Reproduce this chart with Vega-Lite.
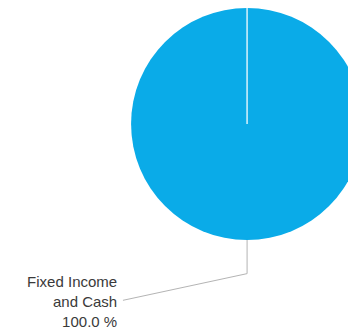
{
  "$schema": "https://vega.github.io/schema/vega-lite/v6.json",
  "width": 348,
  "height": 335,
  "autosize": {"type": "none"},
  "padding": 0,
  "background": "white",
  "config": {"view": {"stroke": null}},
  "datasets": {
    "slices": [{"category": "Fixed Income and Cash", "value": 100.0, "cx": 0, "cy": 0}],
    "divider": [{"x": 0, "y": 0, "x2": 0, "y2": 1}],
    "leader": [
      {"step": 1, "x": 0, "y": -1.0},
      {"step": 2, "x": 0, "y": -1.29},
      {"step": 3, "x": -1.07, "y": -1.52}
    ],
    "labels": [{"x": -1.12, "y": -1.405, "label": "Fixed Income\nand Cash\n100.0 %"}]
  },
  "layer": [
    {
      "data": {"name": "slices"},
      "mark": {"type": "arc", "radius": 116, "color": "#0AABE8"},
      "encoding": {
        "theta": {"field": "value", "type": "quantitative", "stack": true},
        "x": {"field": "cx", "type": "quantitative", "scale": {"domain": [-2.13, 0.87], "nice": false, "zero": false}, "axis": null},
        "y": {"field": "cy", "type": "quantitative", "scale": {"domain": [-1.819, 1.069], "nice": false, "zero": false}, "axis": null}
      }
    },
    {
      "data": {"name": "divider"},
      "mark": {"type": "rule", "color": "#d8f2fc", "strokeWidth": 1.5},
      "encoding": {
        "x": {"field": "x", "type": "quantitative"},
        "y": {"field": "y", "type": "quantitative"},
        "x2": {"field": "x2"},
        "y2": {"field": "y2"}
      }
    },
    {
      "data": {"name": "leader"},
      "mark": {"type": "line", "color": "#b4b4b4", "strokeWidth": 1},
      "encoding": {
        "x": {"field": "x", "type": "quantitative"},
        "y": {"field": "y", "type": "quantitative"},
        "order": {"field": "step", "type": "quantitative"}
      }
    },
    {
      "data": {"name": "labels"},
      "mark": {"type": "text", "align": "right", "baseline": "alphabetic", "lineBreak": "\n", "lineHeight": 20, "font": "Liberation Sans", "fontSize": 15, "color": "#3a3a3a"},
      "encoding": {
        "x": {"field": "x", "type": "quantitative"},
        "y": {"field": "y", "type": "quantitative"},
        "text": {"field": "label"}
      }
    }
  ]
}
